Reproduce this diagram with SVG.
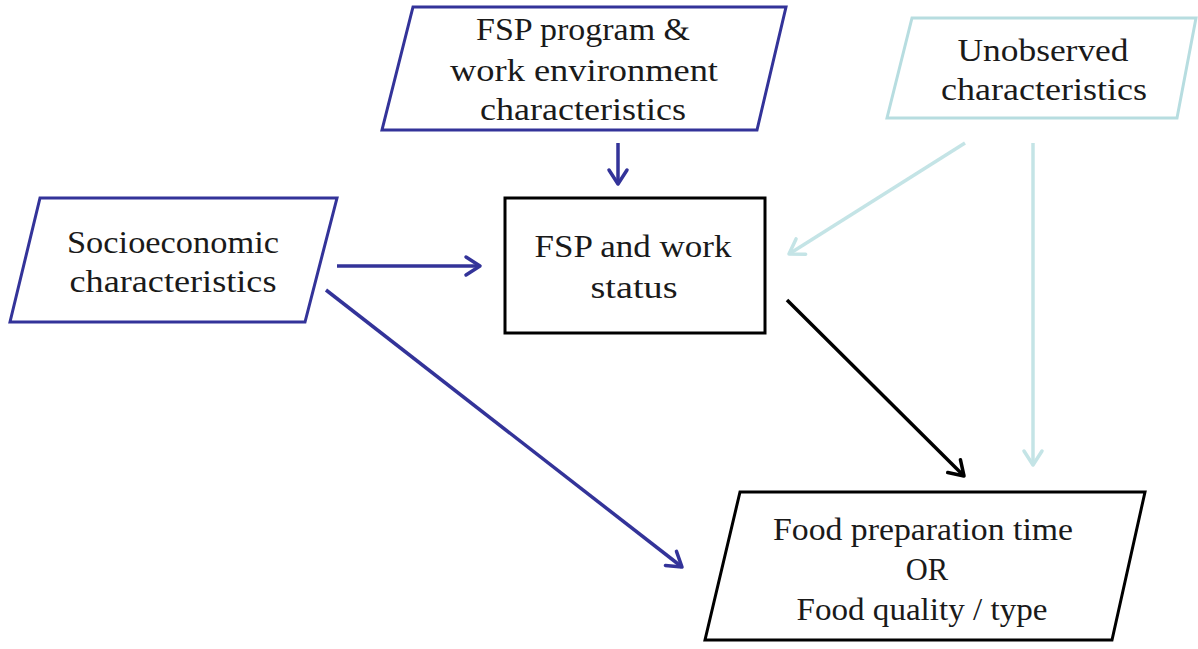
<svg xmlns="http://www.w3.org/2000/svg" width="1198" height="649" viewBox="0 0 1198 649">
<style>
.t{font-family:"Liberation Serif","DejaVu Serif",serif;font-size:30.5px;fill:#1a1a1a;text-anchor:middle}
.navy{fill:#fff;stroke:#333399;stroke-width:3}
.teal{fill:#fff;stroke:#b7dde0;stroke-width:3}
.blk{fill:#fff;stroke:#000;stroke-width:3}
.cn{fill:none;stroke:#333399;stroke-width:3.5}
.ct{fill:none;stroke:#c4e4e6;stroke-width:3.5}
.cb{fill:none;stroke:#000;stroke-width:3.5}
</style>
<defs>
<marker id="mn" viewBox="-18 -11 20 22" refX="0" refY="0" markerWidth="20" markerHeight="22" markerUnits="userSpaceOnUse" orient="auto" overflow="visible"><path d="M-14,-9 L0,0 L-14,9" fill="none" stroke="#333399" stroke-width="3.5" stroke-linecap="round" stroke-linejoin="round"/></marker>
<marker id="mt" viewBox="-18 -11 20 22" refX="0" refY="0" markerWidth="20" markerHeight="22" markerUnits="userSpaceOnUse" orient="auto" overflow="visible"><path d="M-14,-9 L0,0 L-14,9" fill="none" stroke="#c4e4e6" stroke-width="3.5" stroke-linecap="round" stroke-linejoin="round"/></marker>
<marker id="mb" viewBox="-18 -11 20 22" refX="0" refY="0" markerWidth="20" markerHeight="22" markerUnits="userSpaceOnUse" orient="auto" overflow="visible"><path d="M-14,-9 L0,0 L-14,9" fill="none" stroke="#000" stroke-width="3.5" stroke-linecap="round" stroke-linejoin="round"/></marker>
</defs>
<rect width="1198" height="649" fill="#fff"/>
<g id="connectors">
<line class="cn" x1="618" y1="143" x2="618" y2="184" marker-end="url(#mn)"/>
<line class="cn" x1="337" y1="266" x2="480" y2="266" marker-end="url(#mn)"/>
<line class="cn" x1="326" y1="290" x2="682" y2="567" marker-end="url(#mn)"/>
<line class="ct" x1="965" y1="143" x2="789" y2="254" marker-end="url(#mt)"/>
<line class="ct" x1="1033" y1="143" x2="1033" y2="465" marker-end="url(#mt)"/>
<line class="cb" x1="787" y1="300" x2="964" y2="476" marker-end="url(#mb)"/>
</g>
<g id="fsp-program">
<polygon class="navy" points="413,7 786,7 757,130 382,130"/>
<text class="t" x="583" y="40" textLength="214" lengthAdjust="spacingAndGlyphs">FSP program &amp;</text>
<text class="t" x="584" y="81" textLength="268" lengthAdjust="spacingAndGlyphs">work environment</text>
<text class="t" x="583" y="120" textLength="206" lengthAdjust="spacingAndGlyphs">characteristics</text>
</g>
<g id="unobserved">
<polygon class="teal" points="912,18 1196,18 1177,118 887,118"/>
<text class="t" x="1043" y="61" textLength="171" lengthAdjust="spacingAndGlyphs">Unobserved</text>
<text class="t" x="1044" y="100" textLength="206" lengthAdjust="spacingAndGlyphs">characteristics</text>
</g>
<g id="socioeconomic">
<polygon class="navy" points="40,198 337,198 305,322 10,322"/>
<text class="t" x="173" y="253" textLength="212" lengthAdjust="spacingAndGlyphs">Socioeconomic</text>
<text class="t" x="173" y="292" textLength="207" lengthAdjust="spacingAndGlyphs">characteristics</text>
</g>
<g id="fsp-status">
<rect class="blk" x="505" y="198" width="260" height="135"/>
<text class="t" x="633" y="257" textLength="197" lengthAdjust="spacingAndGlyphs">FSP and work</text>
<text class="t" x="634" y="298" textLength="87" lengthAdjust="spacingAndGlyphs">status</text>
</g>
<g id="food">
<polygon class="blk" points="740,492 1145,492 1112,640 705,640"/>
<text class="t" x="923" y="540" textLength="300" lengthAdjust="spacingAndGlyphs">Food preparation time</text>
<text class="t" x="927" y="580">OR</text>
<text class="t" x="922" y="620" textLength="251" lengthAdjust="spacingAndGlyphs">Food quality / type</text>
</g>
</svg>
